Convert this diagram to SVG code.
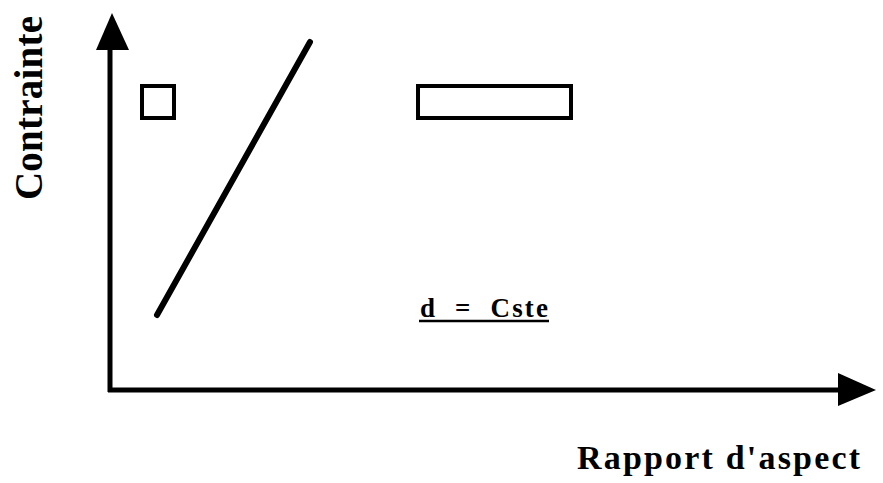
<svg xmlns="http://www.w3.org/2000/svg" width="883" height="483" viewBox="0 0 883 483">
<style>
.ax{stroke:#000;stroke-width:5;fill:none}
.box{stroke:#000;stroke-width:4;fill:#fff}
.lbl{font-family:"Liberation Serif","Times New Roman",serif;font-weight:bold;fill:#000}
</style>
<rect width="883" height="483" fill="#fff"/>
<g id="axes">
<line class="ax" x1="110" y1="392" x2="110" y2="45"/>
<polygon points="112,13 96,50 129,50" fill="#000"/>
<line class="ax" x1="108" y1="390" x2="842" y2="390"/>
<polygon points="876,390 838,373 838,406" fill="#000"/>
</g>
<g id="square"><rect class="box" x="142" y="86" width="32" height="32"/></g>
<g id="rectangle"><rect class="box" x="418" y="86" width="153" height="32"/></g>
<g id="curve"><line x1="157" y1="315" x2="310" y2="42" stroke="#000" stroke-width="6" stroke-linecap="round"/></g>
<g id="label-d">
<text x="420" y="317" font-family="Liberation Serif, serif" font-size="27" font-weight="bold" textLength="128" lengthAdjust="spacing" fill="#000" xml:space="preserve">d  =  Cste</text>
<line x1="419" y1="321" x2="549" y2="321" stroke="#000" stroke-width="2.5"/>
</g>
<g id="label-x"><text class="lbl" x="577" y="469" font-size="34" textLength="283" lengthAdjust="spacing">Rapport  d'aspect</text></g>
<g id="label-y"><text class="lbl" transform="translate(42,200) rotate(-90)" font-size="39" textLength="184" lengthAdjust="spacing">Contrainte</text></g>
</svg>
